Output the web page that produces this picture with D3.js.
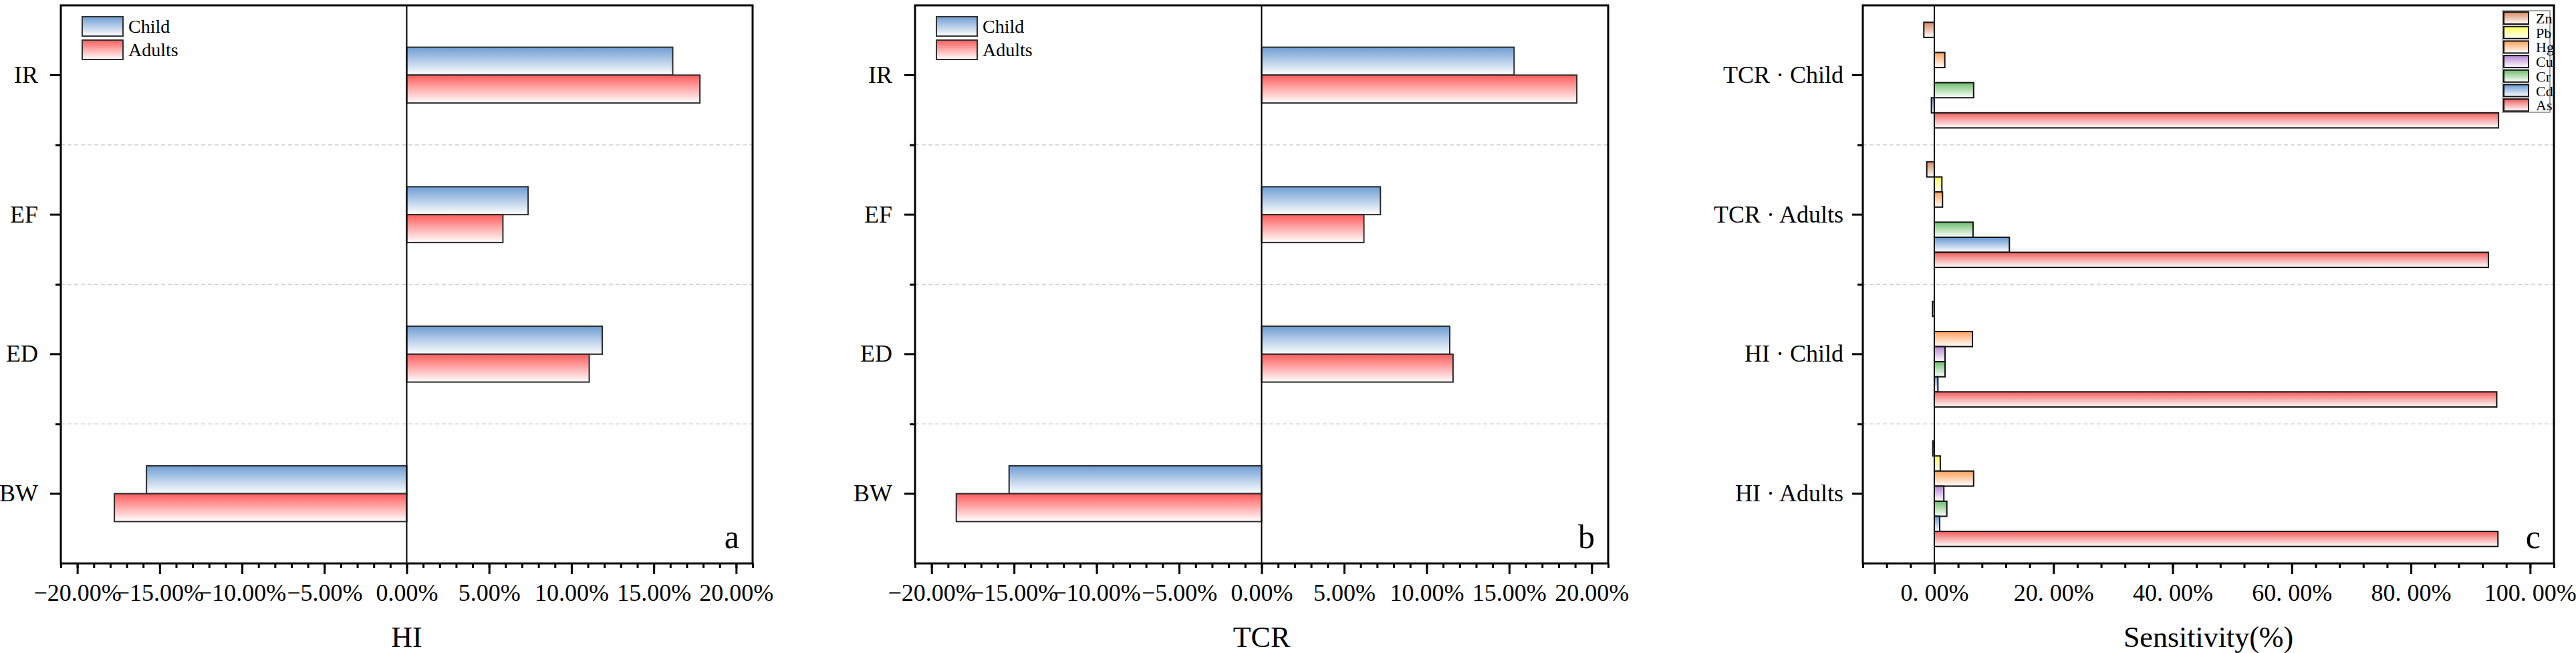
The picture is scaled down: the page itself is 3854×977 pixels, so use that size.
<!DOCTYPE html>
<html>
<head>
<meta charset="utf-8">
<script src="https://cdn.jsdelivr.net/npm/d3@7"></script>
<style>
  html, body { margin: 0; padding: 0; background: #fff; }
  svg { display: block; }
</style>
</head>
<body>
<svg id="chart" width="3854" height="977"></svg>
<script>
/**
 * Sensitivity of HI / TCR to exposure parameters (a, b) and to metals (c)
 */
var factors = ["IR", "EF", "ED", "BW"];
var groups = ["Child", "Adults"];
var hiChild = [16.15, 7.37, 11.87, -15.8];
var hiAdults = [17.8, 5.84, 11.08, -17.75];
var tcrChild = [15.3, 7.2, 11.4, -15.3];
var tcrAdults = [19.1, 6.2, 11.6, -18.5];
var tornadoTicks = [-20, -15, -10, -5, 0, 5, 10, 15, 20];

var scenarios = ["TCR · Child", "TCR · Adults", "HI · Child", "HI · Adults"];
var metals = ["Zn", "Pb", "Hg", "Cu", "Cr", "Cd", "As"];
var sensZn = [-1.76, -1.27, -0.3, -0.25];
var sensPb = [0, 1.27, 0, 1.0];
var sensHg = [1.76, 1.38, 6.4, 6.6];
var sensCu = [0, 0, 1.8, 1.6];
var sensCr = [6.6, 6.5, 1.8, 2.1];
var sensCd = [-0.49, 12.6, 0.6, 0.9];
var sensAs = [94.7, 93.0, 94.4, 94.6];
var sensTicks = [0, 20, 40, 60, 80, 100];

(function () {

    var font = "'Liberation Serif', 'Times New Roman', serif";
    var top = 8, bottom = 843;
    var groupColors = { Child: "#6f9dd3", Adults: "#ff5c5c" };
    var metalColors = {
        Zn: "#d98862", Pb: "#ffff55", Hg: "#ffa05a", Cu: "#b784d4",
        Cr: "#6dbd6d", Cd: "#6497d2", As: "#f05c5c"
    };

    var svg = d3.select("#chart");
    var defs = svg.append("defs");

    // vertical fade: colour on top, white at the bottom
    function gradient(id, color) {
        var lg = defs.append("linearGradient").attr("id", id)
            .attr("x1", 0).attr("y1", 0).attr("x2", 0).attr("y2", 1);
        lg.append("stop").attr("offset", "0%").attr("stop-color", color);
        lg.append("stop").attr("offset", "100%").attr("stop-color", "#ffffff");
        return "url(#" + id + ")";
    }

    var fills = {};
    groups.forEach(function (k) { fills[k] = gradient("g-" + k, groupColors[k]); });
    metals.forEach(function (k) { fills[k] = gradient("m-" + k, metalColors[k]); });

    function styleAxis(sel, size) {
        sel.select(".domain").remove();
        sel.attr("font-family", font).attr("font-size", size);
        sel.selectAll(".tick line").attr("stroke", "#000").attr("stroke-width", 3);
        sel.selectAll(".tick text").attr("fill", "#000");
    }

    // grid, axes, zero line and frame shared by all panels
    function drawFrame(g, x, y, cats, major, minor, fmt, labelPad, title) {
        var left = x.range()[0], right = x.range()[1];
        var idx = d3.scaleLinear().domain([0, cats.length]).range([top, bottom]);

        g.insert("g", ":first-child").selectAll("line")
            .data(d3.range(1, cats.length))
            .join("line")
            .attr("x1", left).attr("x2", right)
            .attr("y1", idx).attr("y2", idx)
            .attr("stroke", "#d0d0d0").attr("stroke-width", 1.5)
            .attr("stroke-dasharray", "6,4");

        g.append("line")
            .attr("x1", x(0)).attr("x2", x(0))
            .attr("y1", top).attr("y2", bottom)
            .attr("stroke", "#000").attr("stroke-width", 2);

        g.append("g")
            .attr("transform", "translate(" + left + ",0)")
            .call(d3.axisLeft(idx).tickValues(d3.range(1, cats.length)).tickSize(8).tickFormat(""))
            .call(styleAxis, 36);

        g.append("g")
            .attr("transform", "translate(" + left + ",0)")
            .call(d3.axisLeft(y).tickSize(16).tickPadding(labelPad))
            .call(styleAxis, 36);

        g.append("g")
            .attr("transform", "translate(0," + bottom + ")")
            .call(d3.axisBottom(x).tickValues(minor).tickSize(7).tickFormat(""))
            .call(styleAxis, 36);

        g.append("g")
            .attr("transform", "translate(0," + bottom + ")")
            .call(d3.axisBottom(x).tickValues(major).tickSize(16).tickPadding(14).tickFormat(fmt))
            .call(styleAxis, 36);

        g.append("rect")
            .attr("x", left).attr("y", top)
            .attr("width", right - left).attr("height", bottom - top)
            .attr("fill", "none").attr("stroke", "#000").attr("stroke-width", 3);

        g.append("text")
            .attr("x", (left + right) / 2).attr("y", 968)
            .attr("text-anchor", "middle")
            .attr("font-family", font).attr("font-size", 44)
            .text(title);
    }

    function tornado(left, right, child, adults, title, tag) {
        var g = svg.append("g");
        var x = d3.scaleLinear().domain([-21, 21]).range([left, right]);
        var y = d3.scaleBand().domain(factors).range([top, bottom]);
        var sub = d3.scaleBand().domain(groups).range([0, y.bandwidth()]).paddingOuter(1.5);

        var rows = [];
        factors.forEach(function (f, i) {
            rows.push({ cat: f, group: "Child", value: child[i] });
            rows.push({ cat: f, group: "Adults", value: adults[i] });
        });

        g.append("g").selectAll("rect")
            .data(rows)
            .join("rect")
            .attr("x", function (d) { return x(Math.min(0, d.value)); })
            .attr("width", function (d) { return Math.abs(x(d.value) - x(0)); })
            .attr("y", function (d) { return y(d.cat) + sub(d.group); })
            .attr("height", sub.bandwidth())
            .attr("fill", function (d) { return fills[d.group]; })
            .attr("stroke", "#2b2b2b").attr("stroke-width", 2);

        drawFrame(g, x, y, factors, tornadoTicks, d3.range(-21, 22, 1),
            function (d) { return d3.format(".2f")(d) + "%"; }, 18, title);

        // legend
        var lg = g.append("g").attr("transform", "translate(" + (left + 32) + ",25)");
        groups.forEach(function (k, i) {
            lg.append("rect")
                .attr("x", 0).attr("y", i * 35)
                .attr("width", 61).attr("height", 29)
                .attr("fill", fills[k]).attr("stroke", "#333").attr("stroke-width", 2);
            lg.append("text")
                .attr("x", 69).attr("y", i * 35 + 24)
                .attr("font-family", font).attr("font-size", 28)
                .text(k);
        });

        g.append("text")
            .attr("x", right - 20).attr("y", 820)
            .attr("text-anchor", "end")
            .attr("font-family", font).attr("font-size", 50)
            .text(tag);
    }

    function sensitivity(left, right) {
        var g = svg.append("g");
        var x = d3.scaleLinear().domain([-12, 104]).range([left, right]);
        var y = d3.scaleBand().domain(scenarios).range([top, bottom]);
        var sub = d3.scaleBand().domain(metals).range([0, y.bandwidth()]).paddingOuter(1.125);
        var values = { Zn: sensZn, Pb: sensPb, Hg: sensHg, Cu: sensCu, Cr: sensCr, Cd: sensCd, As: sensAs };

        var rows = [];
        scenarios.forEach(function (s, i) {
            metals.forEach(function (m) {
                rows.push({ cat: s, metal: m, value: values[m][i] });
            });
        });

        g.append("g").selectAll("rect")
            .data(rows)
            .join("rect")
            .attr("x", function (d) { return x(Math.min(0, d.value)); })
            .attr("width", function (d) { return Math.abs(x(d.value) - x(0)); })
            .attr("y", function (d) { return y(d.cat) + sub(d.metal); })
            .attr("height", sub.bandwidth())
            .attr("fill", function (d) { return fills[d.metal]; })
            .attr("stroke", "#111").attr("stroke-width", 2);

        drawFrame(g, x, y, scenarios, sensTicks, d3.range(-12, 105, 4),
            function (d) { return d3.format(".2f")(d).replace(".", ". ") + "%"; }, 13, "Sensitivity(%)");

        // legend, top right
        var lg = g.append("g").attr("transform", "translate(3744,16)");
        lg.append("rect")
            .attr("width", 71).attr("height", 152)
            .attr("fill", "#fff").attr("stroke", "#888").attr("stroke-width", 1.5);
        metals.forEach(function (k, i) {
            lg.append("rect")
                .attr("x", 2).attr("y", 2 + i * 21.7)
                .attr("width", 37).attr("height", 18)
                .attr("fill", fills[k]).attr("stroke", "#111").attr("stroke-width", 2);
            lg.append("text")
                .attr("x", 50).attr("y", 2 + i * 21.7 + 17)
                .attr("font-family", font).attr("font-size", 22)
                .text(k);
        });

        g.append("text")
            .attr("x", right - 20).attr("y", 820)
            .attr("text-anchor", "end")
            .attr("font-family", font).attr("font-size", 50)
            .text("c");
    }

    tornado(91, 1126, hiChild, hiAdults, "HI", "a");
    tornado(1369, 2406, tcrChild, tcrAdults, "TCR", "b");
    sensitivity(2787, 3821);

})();
</script>
</body>
</html>
